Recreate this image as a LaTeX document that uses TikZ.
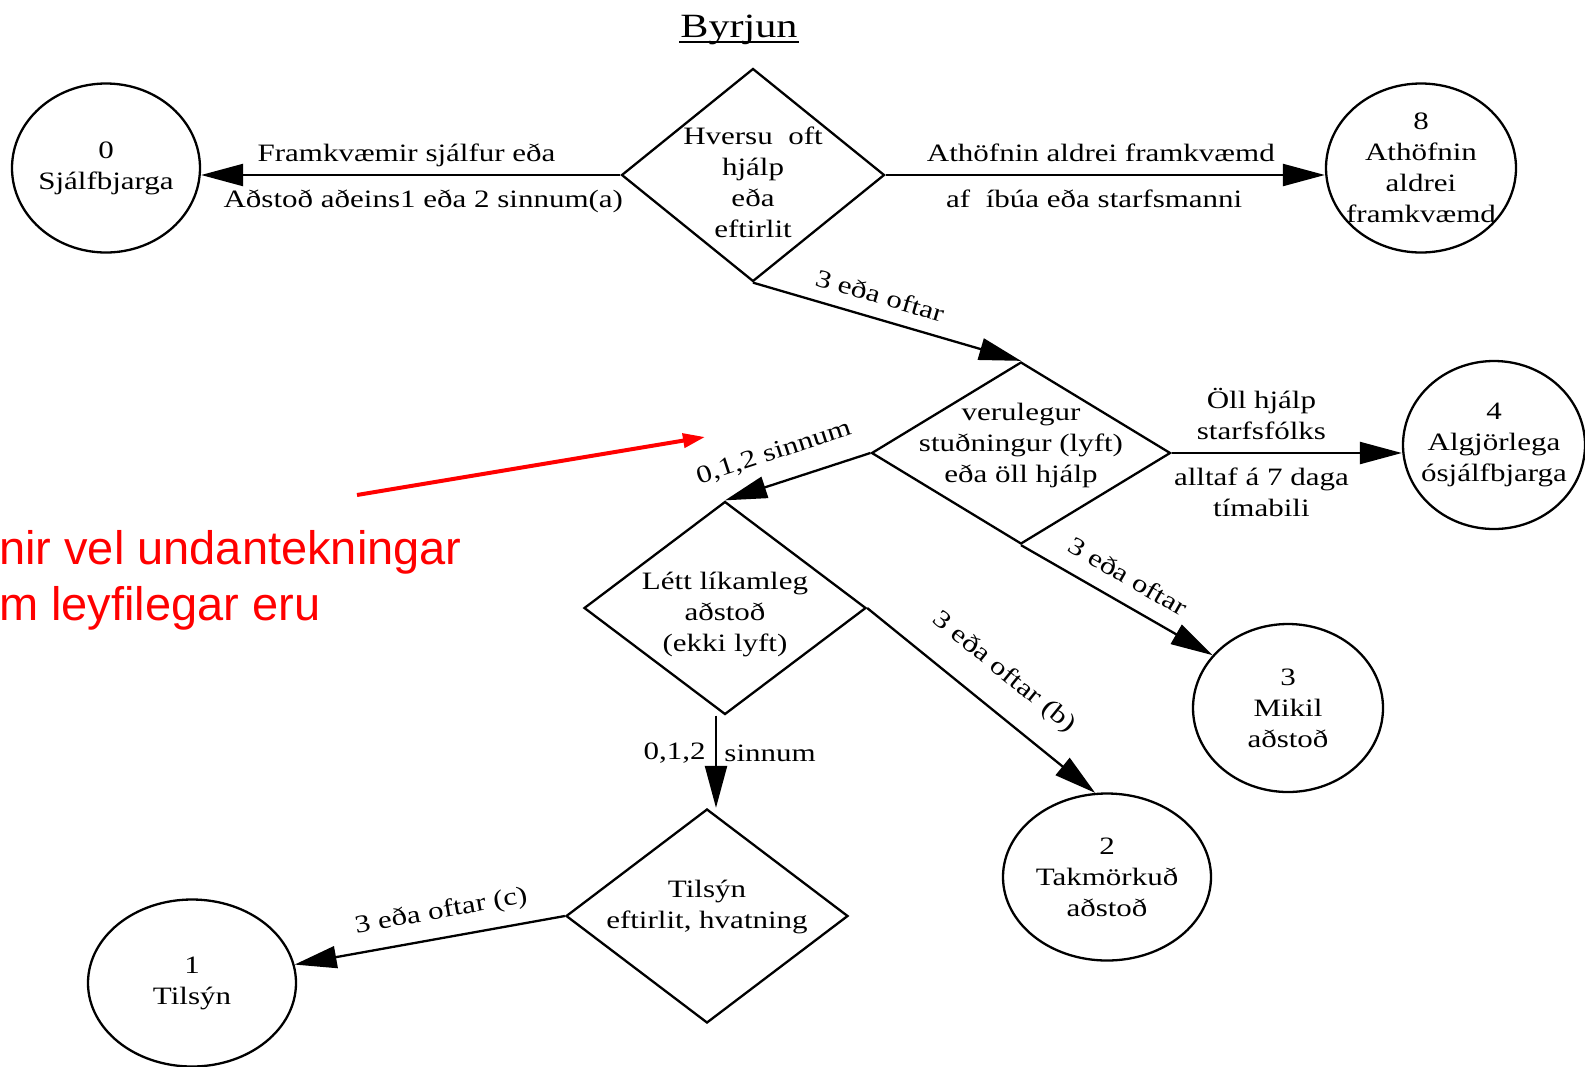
\documentclass[tikz,border=0pt]{standalone}
\usepackage{fontspec}
\setmainfont{Liberation Serif}[FakeStretch=1.24]
\newfontfamily\redfont{Liberation Sans}
\usetikzlibrary{arrows.meta, shapes.geometric, calc}

\begin{document}
\begin{tikzpicture}[x=1pt, y=-1pt, line width=2.3pt,
    font=\fontsize{25}{31}\selectfont,
    >={Triangle[length=42pt, width=22pt]},
    every label/.style={align=center},
    dia/.style={diamond, draw, inner sep=0pt},
    st/.style={ellipse, draw, inner sep=0pt},
    hl/.style={text height=17pt, text depth=5.5pt},
    lbl/.style={align=center}]
    \useasboundingbox (0,0) rectangle (1585,1066);
    \clip (0,0) rectangle (1585,1066);

    \node[inner sep=0pt, anchor=base, font=\fontsize{34}{40}\selectfont] (t) at (739,37) {Byrjun};
    \draw ([yshift=-5pt]t.base west) -- ([yshift=-5pt]t.base east);

    \node[dia, minimum width=263, minimum height=213, label={[yshift=-7pt]center:{Hversu~ oft\\hjálp\\eða\\eftirlit}}] (q0) at (753,175) {};
    \node[dia, minimum width=299, minimum height=182, label={[yshift=8pt]center:{verulegur\\stuðningur (lyft)\\eða öll hjálp}}] (q1) at (1021,453) {};
    \node[dia, minimum width=282, minimum height=213, label={[yshift=-6pt]center:{Létt líkamleg\\aðstoð\\(ekki lyft)}}] (q2) at (725,608) {};
    \node[dia, minimum width=282, minimum height=214, label={[yshift=9pt]center:{Tilsýn\\eftirlit, hvatning}}] (q3) at (707,916) {};

    \node[st, minimum width=188, minimum height=169, label={center:{0\\Sjálfbjarga}}] (c0) at (106,168) {};
    \node[st, minimum width=190, minimum height=169, label={center:{8\\Athöfnin\\aldrei\\framkvæmd}}] (c8) at (1421,168) {};
    \node[st, minimum width=182, minimum height=168, label={center:{4\\Algjörlega\\ósjálfbjarga}}] (c4) at (1494,445) {};
    \node[st, minimum width=190, minimum height=168, label={center:{3\\Mikil\\aðstoð}}] (c3) at (1288,708) {};
    \node[st, minimum width=208, minimum height=167, label={center:{2\\Takmörkuð\\aðstoð}}] (c2) at (1107,877) {};
    \node[st, minimum width=208, minimum height=167, label={center:{1\\Tilsýn}}] (c1) at (192,983) {};

    \coordinate (m) at ($(q2.south)!.5!(q3.north)$);
    \draw
    (q0.west) edge[->] node[hl, above=4pt, pos=.51] {Framkvæmir sjálfur eða} node[hl, below=11pt, pos=.47] {Aðstoð aðeins1 eða 2 sinnum(a)} (q0.west -| c0.east)
    (q0.east) edge[->] node[hl, above=4pt, pos=.49] {Athöfnin aldrei framkvæmd} node[hl, below=11pt, pos=.475] {af~ íbúa eða starfsmanni} (q0.east -| c8.west)
    (q0.south) edge[->] node[sloped, above=10pt, pos=.45] {3 eða oftar} (q1.north)
    (q1.east) edge[->] node[lbl, above=9pt, pos=.39] {Öll hjálp\\starfsfólks} node[lbl, below=10pt, pos=.39] {alltaf á 7 daga\\tímabili} (q1.east -| c4.west)
    (q1.west) edge[->] node[sloped, above=15pt, pos=.6] {0,1,2 sinnum} (q2.north)
    (q1.south) edge[->] node[sloped, above=13pt, pos=.49] {3 eða oftar} (c3.145)
    (q2.east) edge[->] node[sloped, above=20pt, pos=.5] {3 eða oftar (b)} (c2.98)
    (m |- q2.south) edge[->] node[left=6pt, pos=.41] {0,1,2} node[right=4pt, pos=.41] {sinnum} (m |- q3.north)
    (q3.west) edge[->] node[sloped, above=10pt, pos=.44] {3 eða oftar (c)} (c1);

    \coordinate (r0) at (357,495);
    \coordinate (r1) at (705,437);
    \draw[red, line width=4pt, -{Triangle[length=22pt, width=14pt]}] (r0) -- (r1);
    \node[red, anchor=base west, inner sep=0pt, font=\redfont\fontsize{47}{56}\selectfont] (n1) at (-2,564) {nir vel undantekningar};
    \node[red, anchor=base west, inner sep=0pt, font=\redfont\fontsize{47}{56}\selectfont] (n2) at (-2,620) {m leyfilegar eru};
\end{tikzpicture}
\end{document}
